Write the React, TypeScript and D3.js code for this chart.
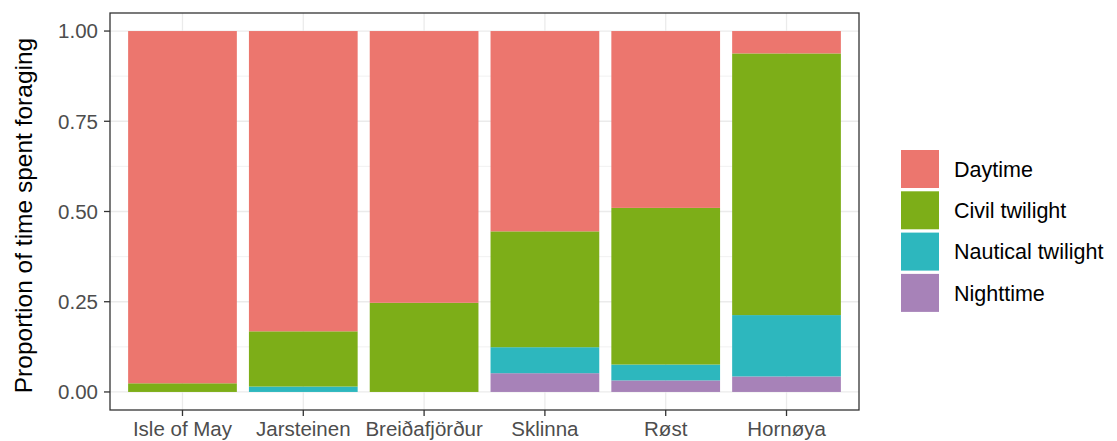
import React from 'react';
import * as d3 from 'd3';

const colonies = ['Isle of May', 'Jarsteinen', 'Breiðafjörður', 'Sklinna', 'Røst', 'Hornøya'];
const periods = ['Nighttime', 'Nautical twilight', 'Civil twilight', 'Daytime'];
const legendOrder = ['Daytime', 'Civil twilight', 'Nautical twilight', 'Nighttime'];

// proportion of foraging time per colony, by light period
const nighttime = [0, 0, 0, 0.052, 0.032, 0.043];
const nautical = [0, 0.015, 0, 0.072, 0.044, 0.170];
const civil = [0.024, 0.153, 0.247, 0.321, 0.434, 0.725];
const daytime = [0.976, 0.832, 0.753, 0.555, 0.490, 0.062];

const yTicks = [0, 0.25, 0.5, 0.75, 1];
const yMinor = [0.125, 0.375, 0.625, 0.875];

const colours: Record<string, string> = {
  Daytime: '#EC766E',
  'Civil twilight': '#7DAE18',
  'Nautical twilight': '#2DB7BE',
  Nighttime: '#A782B8',
};

const font = '"Liberation Sans", Arial, Helvetica, sans-serif';

export default function App() {
  const W = 1117, H = 441;
  const panel = { left: 110, top: 13, right: 859, bottom: 410 };

  const rows = colonies.map((c, i) => ({
    colony: c,
    Nighttime: nighttime[i],
    'Nautical twilight': nautical[i],
    'Civil twilight': civil[i],
    Daytime: daytime[i],
  }));
  const series = d3.stack<any>().keys(periods)(rows);

  // ggplot discrete expansion: 0.6 of a category on each side, bar width 0.9
  const x = d3.scaleBand().domain(colonies)
    .range([panel.left, panel.right]).paddingInner(0.1).paddingOuter(0.15);
  const yRange = panel.bottom - panel.top;
  const y = d3.scaleLinear().domain([0, 1])
    .range([panel.bottom - yRange * 0.05 / 1.1, panel.top + yRange * 0.05 / 1.1]);

  return (
    <svg width={W} height={H} style={{ position: 'absolute', left: 0, top: 0, background: '#fff' }} fontFamily={font}>
      {/* grid */}
      {yMinor.map(t => (
        <line key={'m' + t} x1={panel.left} x2={panel.right} y1={y(t)} y2={y(t)} stroke="#EBEBEB" strokeWidth={0.7} />
      ))}
      {yTicks.map(t => (
        <line key={'g' + t} x1={panel.left} x2={panel.right} y1={y(t)} y2={y(t)} stroke="#EBEBEB" strokeWidth={1.3} />
      ))}
      {colonies.map(c => (
        <line key={'v' + c} x1={x(c)! + x.bandwidth() / 2} x2={x(c)! + x.bandwidth() / 2}
          y1={panel.top} y2={panel.bottom} stroke="#EBEBEB" strokeWidth={1.3} />
      ))}

      {/* bars */}
      {series.map(s => (
        <g key={s.key} fill={colours[s.key]}>
          {s.map((d, i) => (
            d[1] - d[0] > 0 ? (
              <rect key={i} x={x(colonies[i])} width={x.bandwidth()}
                y={y(d[1])} height={y(d[0]) - y(d[1])} />
            ) : null
          ))}
        </g>
      ))}

      {/* border */}
      <rect x={panel.left} y={panel.top} width={panel.right - panel.left} height={panel.bottom - panel.top}
        fill="none" stroke="#333333" strokeWidth={1.3} />

      {/* y axis */}
      {yTicks.map(t => (
        <g key={'yt' + t}>
          <line x1={panel.left - 6} x2={panel.left} y1={y(t)} y2={y(t)} stroke="#333333" strokeWidth={1.3} />
          <text x={panel.left - 12} y={y(t)} dy="0.36em" textAnchor="end" fontSize={20.5} fill="#4D4D4D">
            {d3.format('.2f')(t)}
          </text>
        </g>
      ))}
      <text transform={`translate(32,${(panel.top + panel.bottom) / 2 + 4}) rotate(-90)`} textAnchor="middle"
        fontSize={24.5} fill="#000">Proportion of time spent foraging</text>

      {/* x axis */}
      {colonies.map(c => {
        const cx = x(c)! + x.bandwidth() / 2;
        return (
          <g key={'xt' + c}>
            <line x1={cx} x2={cx} y1={panel.bottom} y2={panel.bottom + 6} stroke="#333333" strokeWidth={1.3} />
            <text x={cx} y={436} textAnchor="middle" fontSize={20.5} fill="#4D4D4D">{c}</text>
          </g>
        );
      })}

      {/* legend */}
      {legendOrder.map((k, i) => {
        const top = 150 + i * 41.3;
        return (
          <g key={'lg' + k}>
            <rect x={901} y={top} width={38} height={38} fill={colours[k]} />
            <text x={954} y={top + 19} dy="0.36em" fontSize={21.5} fill="#000">{k}</text>
          </g>
        );
      })}
    </svg>
  );
}
